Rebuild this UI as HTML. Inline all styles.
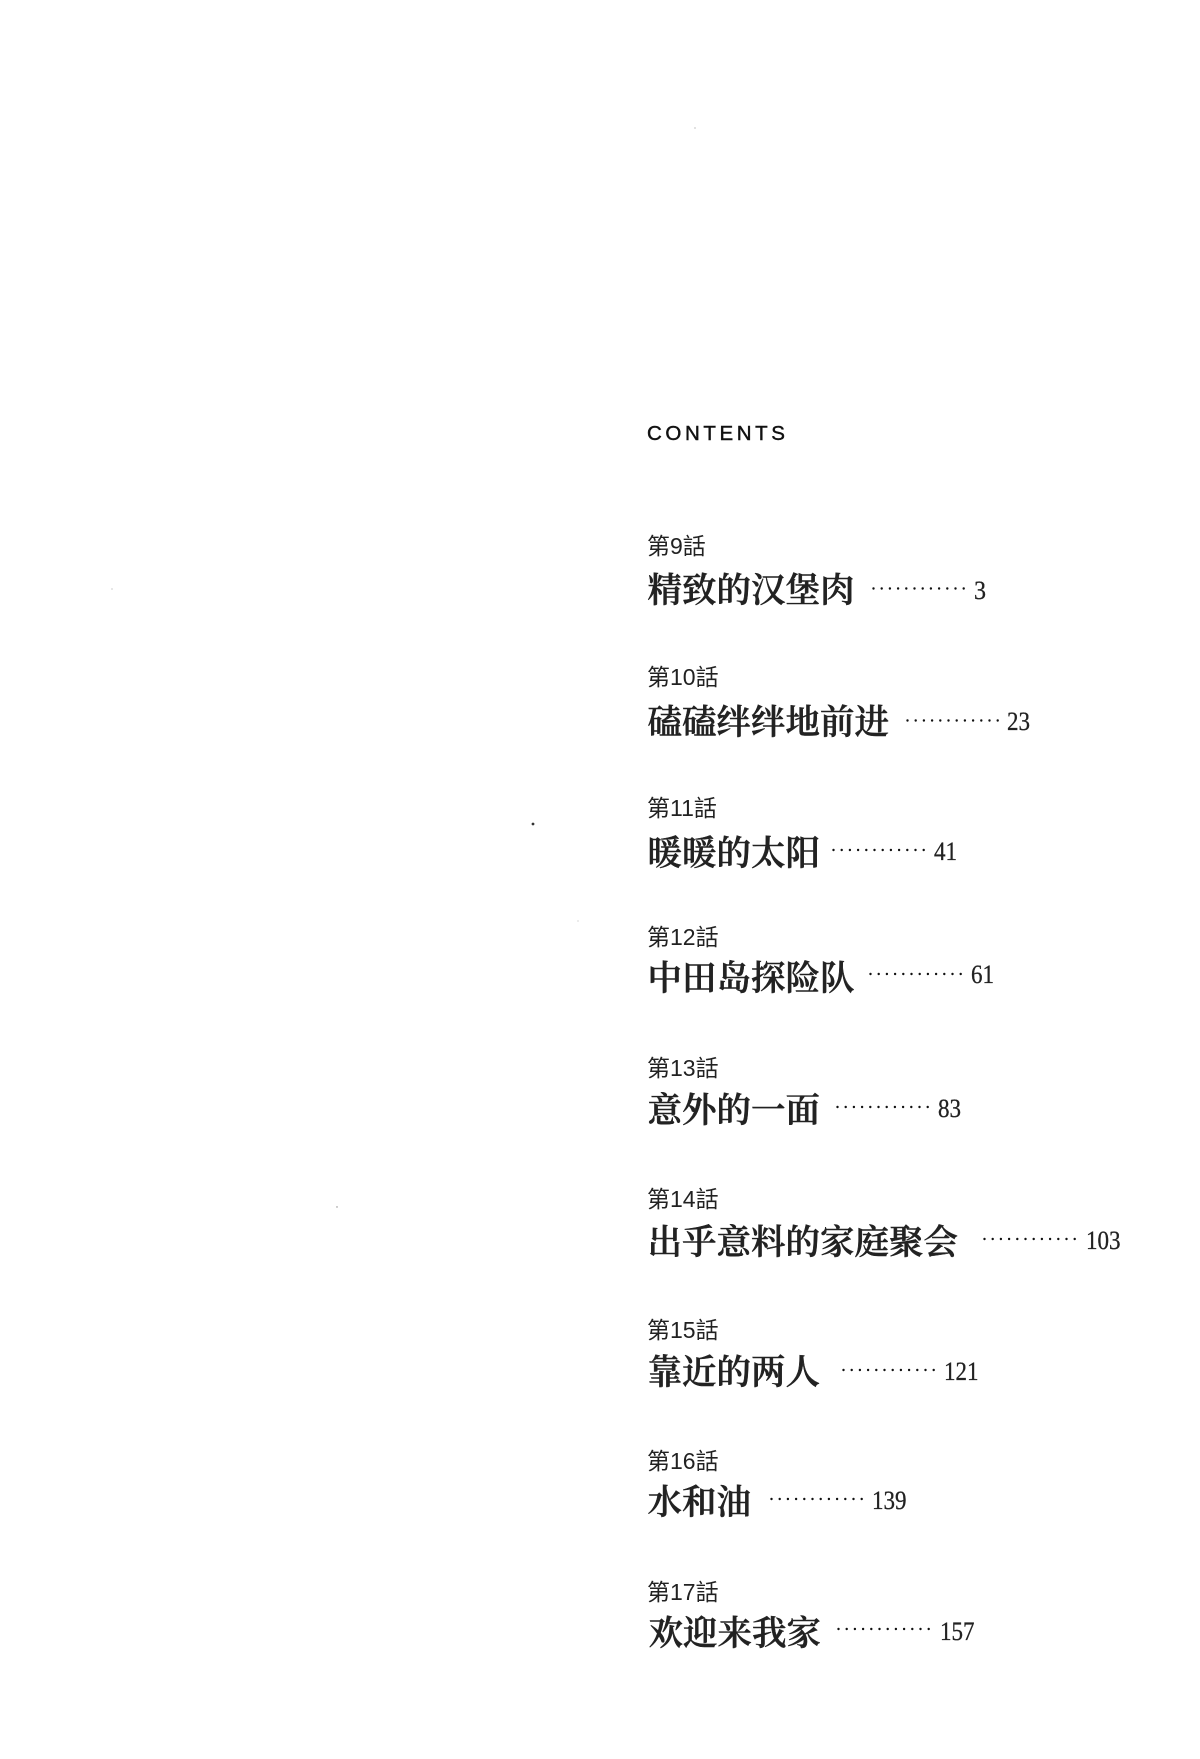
<!DOCTYPE html>
<html lang="zh">
<head>
<meta charset="utf-8">
<title>CONTENTS</title>
<style>
html,body{margin:0;padding:0;background:#fff;}
svg{display:block;}
.h{font-family:"Liberation Sans",sans-serif;font-size:20.5px;letter-spacing:3.6px;fill:#111;stroke:#111;stroke-width:.45px;}
.l{font-family:"Liberation Sans","Noto Sans CJK JP",sans-serif;font-size:23px;fill:#222;}
.t{font-family:"Liberation Serif","Noto Serif CJK SC",serif;font-size:34.5px;font-weight:600;fill:#222;stroke:#222;stroke-width:.45px;}
.n{font-family:"Liberation Serif",serif;font-size:26.5px;fill:#222;stroke:#222;stroke-width:.3px;}
.d{stroke:#111;stroke-width:2.4;stroke-linecap:round;stroke-dasharray:0 8.2;fill:none;}
</style>
</head>
<body>
<svg xmlns="http://www.w3.org/2000/svg" width="1200" height="1759" viewBox="0 0 1200 1759">
<rect width="1200" height="1759" fill="#fff"/>
<circle cx="533" cy="824" r="1.4" fill="#333"/>
<circle cx="695" cy="128" r="0.6" fill="#999"/>
<circle cx="112" cy="589" r="0.6" fill="#aaa"/>
<circle cx="578" cy="921" r="0.6" fill="#bbb"/>
<circle cx="337" cy="1207" r="0.7" fill="#888"/>

<text class="h" x="647" y="440">CONTENTS</text>

<text class="l" x="647" y="554">第9話</text>
<text class="t" x="647.5" y="602">精致的汉堡肉</text>
<line class="d" x1="873.5" y1="588.5" x2="965" y2="588.5"/>
<text class="n" x="974" y="599" textLength="12" lengthAdjust="spacingAndGlyphs">3</text>

<text class="l" x="647" y="685">第10話</text>
<text class="t" x="647.5" y="734">磕磕绊绊地前进</text>
<line class="d" x1="907.5" y1="720.5" x2="999" y2="720.5"/>
<text class="n" x="1007" y="730" textLength="23" lengthAdjust="spacingAndGlyphs">23</text>

<text class="l" x="647" y="816">第11話</text>
<text class="t" x="647.5" y="865">暖暖的太阳</text>
<line class="d" x1="833.5" y1="850" x2="925" y2="850"/>
<text class="n" x="934" y="860" textLength="23" lengthAdjust="spacingAndGlyphs">41</text>

<text class="l" x="647" y="945">第12話</text>
<text class="t" x="647.5" y="990">中田岛探险队</text>
<line class="d" x1="870.5" y1="974" x2="962" y2="974"/>
<text class="n" x="971" y="983" textLength="23" lengthAdjust="spacingAndGlyphs">61</text>

<text class="l" x="647" y="1076">第13話</text>
<text class="t" x="647.5" y="1122">意外的一面</text>
<line class="d" x1="837.5" y1="1107" x2="929" y2="1107"/>
<text class="n" x="938" y="1117" textLength="23" lengthAdjust="spacingAndGlyphs">83</text>

<text class="l" x="647" y="1207">第14話</text>
<text class="t" x="647.5" y="1254">出乎意料的家庭聚会</text>
<line class="d" x1="984.5" y1="1239" x2="1076" y2="1239"/>
<text class="n" x="1086" y="1249" textLength="34.5" lengthAdjust="spacingAndGlyphs">103</text>

<text class="l" x="647" y="1338">第15話</text>
<text class="t" x="647.5" y="1384">靠近的两人</text>
<line class="d" x1="843.5" y1="1370" x2="935" y2="1370"/>
<text class="n" x="944" y="1380" textLength="34.5" lengthAdjust="spacingAndGlyphs">121</text>

<text class="l" x="647" y="1469">第16話</text>
<text class="t" x="647.5" y="1514">水和油</text>
<line class="d" x1="771.5" y1="1499" x2="863" y2="1499"/>
<text class="n" x="872" y="1509" textLength="34.5" lengthAdjust="spacingAndGlyphs">139</text>

<text class="l" x="647" y="1600">第17話</text>
<text class="t" x="648.5" y="1645">欢迎来我家</text>
<line class="d" x1="838.5" y1="1629" x2="930" y2="1629"/>
<text class="n" x="940" y="1640" textLength="34.5" lengthAdjust="spacingAndGlyphs">157</text>
</svg>
</body>
</html>
